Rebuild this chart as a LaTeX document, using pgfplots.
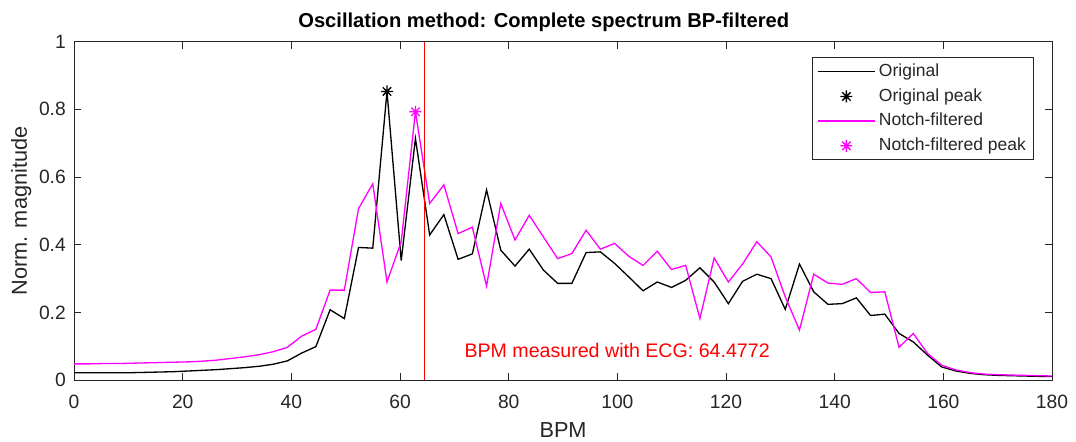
\documentclass[border=0pt]{standalone}
\usepackage{fontspec}
\setmainfont{Liberation Sans}
\usepackage{pgfplots}
\pgfplotsset{compat=1.18}
\usepackage{pgfplotstable}
\definecolor{axgray}{rgb}{0.15,0.15,0.15}
\definecolor{mlmag}{rgb}{1,0,1}

\pgfdeclareplotmark{mlast}{%
  \pgfpathmoveto{\pgfqpoint{0pt}{\pgfplotmarksize}}%
  \pgfpathlineto{\pgfqpoint{0pt}{-\pgfplotmarksize}}%
  \pgfpathmoveto{\pgfqpoint{\pgfplotmarksize}{0pt}}%
  \pgfpathlineto{\pgfqpoint{-\pgfplotmarksize}{0pt}}%
  \pgfpathmoveto{\pgfqpoint{0.707\pgfplotmarksize}{0.707\pgfplotmarksize}}%
  \pgfpathlineto{\pgfqpoint{-0.707\pgfplotmarksize}{-0.707\pgfplotmarksize}}%
  \pgfpathmoveto{\pgfqpoint{0.707\pgfplotmarksize}{-0.707\pgfplotmarksize}}%
  \pgfpathlineto{\pgfqpoint{-0.707\pgfplotmarksize}{0.707\pgfplotmarksize}}%
  \pgfusepathqstroke}

\pgfplotstableread{
x orig notch
0.000 0.022 0.048
2.618 0.022 0.048
5.236 0.022 0.049
7.854 0.022 0.049
10.472 0.022 0.050
13.090 0.023 0.051
15.708 0.024 0.052
18.326 0.025 0.053
20.944 0.027 0.054
23.562 0.029 0.056
26.180 0.031 0.059
28.798 0.034 0.064
31.416 0.037 0.069
34.034 0.041 0.075
36.652 0.047 0.084
39.270 0.057 0.097
41.888 0.080 0.130
44.506 0.099 0.150
47.124 0.208 0.266
49.742 0.182 0.266
52.360 0.392 0.507
54.978 0.390 0.580
57.596 0.853 0.290
60.214 0.353 0.409
62.832 0.714 0.793
65.450 0.429 0.522
68.068 0.489 0.577
70.686 0.357 0.433
73.304 0.373 0.452
75.922 0.562 0.278
78.540 0.384 0.522
81.158 0.337 0.414
83.776 0.387 0.487
86.394 0.325 0.423
89.012 0.286 0.359
91.630 0.286 0.374
94.248 0.377 0.443
96.866 0.379 0.387
99.484 0.345 0.404
102.102 0.305 0.366
104.720 0.264 0.339
107.338 0.290 0.381
109.956 0.274 0.327
112.574 0.295 0.339
115.192 0.332 0.182
117.810 0.290 0.361
120.428 0.226 0.290
123.046 0.292 0.343
125.664 0.313 0.409
128.282 0.300 0.364
130.900 0.209 0.246
133.518 0.343 0.148
136.136 0.261 0.313
138.754 0.224 0.287
141.372 0.226 0.283
143.990 0.243 0.300
146.608 0.191 0.259
149.226 0.195 0.261
151.844 0.138 0.097
154.462 0.113 0.138
157.080 0.074 0.079
159.698 0.039 0.044
162.316 0.027 0.030
164.934 0.020 0.022
167.552 0.016 0.018
170.170 0.014 0.016
172.788 0.013 0.015
175.406 0.012 0.014
178.024 0.011 0.013
180.642 0.011 0.012
}\spectrum

\begin{document}
\begin{tikzpicture}
\useasboundingbox (-42.3pt,-34.8pt) rectangle (572.2pt,217.1pt);
\begin{axis}[
  at={(0pt,0pt)}, anchor=south west,
  scale only axis,
  width=558.5pt, height=193.3pt,
  xmin=0, xmax=180, ymin=0, ymax=1,
  xtick={0,20,40,60,80,100,120,140,160,180},
  ytick={0,0.2,0.4,0.6,0.8,1},
  yticklabels={0,0.2,0.4,0.6,0.8,1},
  xtick pos=both, ytick pos=both,
  xticklabel pos=lower, yticklabel pos=left,
  tick align=inside,
  major tick length=4pt,
  axis line style={axgray, line width=0.45pt},
  tick style={axgray, line width=0.45pt},
  /pgf/number format/assume math mode=true,
  tick label style={font=\fontsize{11}{13}\selectfont, text=axgray},
  xticklabel style={yshift=-5pt},
  yticklabel style={xshift=-1.2pt},
  xlabel={BPM},
  ylabel={Norm. magnitude},
  label style={font=\fontsize{12.4}{14}\selectfont, text=axgray},
  xlabel style={at={(axis description cs:0.5,0)}, anchor=base, yshift=-32.7pt},
  ylabel style={at={(axis description cs:0,0.5)}, anchor=base, yshift=27pt},
  every axis title shift=0pt,
  title={Oscillation method: Complete spectrum BP-filtered},
  title style={font=\bfseries\fontsize{11.5}{13}\selectfont, at={(axis description cs:0.5,1)}, anchor=base, yshift=8.1pt, xshift=-11pt},
  legend cell align=left,
  legend image code/.code={\draw[mark repeat=2,mark phase=2,#1] plot coordinates {(0pt,0pt) (16.5pt,0pt) (33pt,0pt)};},
  legend style={at={(1,1)}, anchor=north east, xshift=-10.5pt, yshift=-9pt,
    draw=axgray, line width=0.45pt, fill=white,
    font=\fontsize{10}{12}\selectfont, text=axgray,
    inner xsep=2.5pt, inner ysep=0.9pt,
    nodes={inner sep=1.7pt, text height=8pt, text depth=2.7pt},
    row sep=0pt},
]
\addplot[black, line width=0.75pt] table[x=x, y=orig] {\spectrum};
\addlegendentry{Original}
\addplot[black, only marks, mark=mlast, mark size=3.4pt, mark options={line width=0.75pt}] coordinates {(57.596,0.853)};
\addlegendentry{Original peak}
\addplot[mlmag, line width=0.75pt] table[x=x, y=notch] {\spectrum};
\addlegendentry{Notch-filtered}
\addplot[mlmag, only marks, mark=mlast, mark size=3.4pt, mark options={line width=0.75pt}] coordinates {(62.832,0.793)};
\addlegendentry{Notch-filtered peak}
\addplot[red, line width=0.6pt, forget plot] coordinates {(64.4772,0) (64.4772,1)};
\node[anchor=base west, inner sep=0pt, text=red, font=\fontsize{11.2}{13}\selectfont] at (axis cs:71.8,0.068) {BPM measured with ECG: 64.4772};
\end{axis}
\end{tikzpicture}
\end{document}
